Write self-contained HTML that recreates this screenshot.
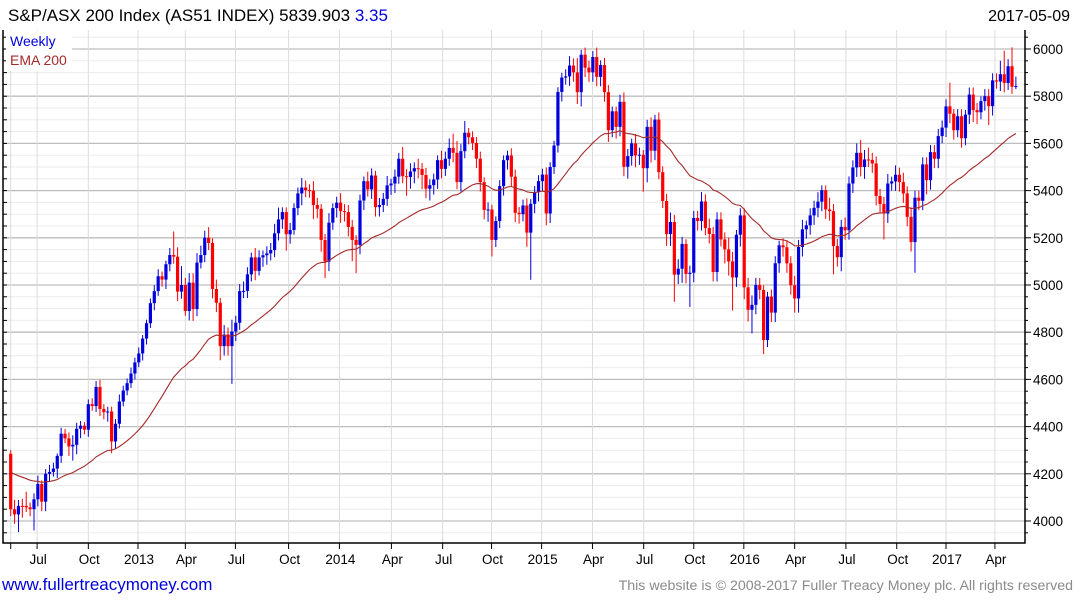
<!DOCTYPE html>
<html><head><meta charset="utf-8"><style>
html,body{margin:0;padding:0;background:#fff;}
svg{display:block;font-family:"Liberation Sans","DejaVu Sans",sans-serif;}
</style></head><body>
<svg id="chart" width="1075" height="600" viewBox="0 0 1075 600" xmlns="http://www.w3.org/2000/svg">
<text x="8" y="21" font-size="17" fill="#000">S&amp;P/ASX 200 Index (AS51 INDEX) 5839.903 <tspan fill="#0000dd">3.35</tspan></text>
<text x="1070" y="21" font-size="16" fill="#000" text-anchor="end">2017-05-09</text>
<g id="grid"></g>
<g id="marks" clip-path="url(#clip)"></g>
<defs><clipPath id="clip"><rect x="3" y="30" width="1022" height="513"/></clipPath></defs>
<g id="axes"></g>
<rect x="6" y="31" width="66" height="40" fill="#fff"/>
<text x="10" y="46" font-size="14" fill="#0000dd">Weekly</text>
<text x="10" y="65" font-size="14" fill="#a52a2a">EMA 200</text>
<text x="2" y="590" font-size="17" fill="#0000dd">www.fullertreacymoney.com</text>
<text x="1073" y="590" font-size="14.2" fill="#8a8a8a" text-anchor="end">This website is © 2008-2017 Fuller Treacy Money plc. All rights reserved</text>
</svg>
<script>
const closes=[4050,4028,4064,4064,4058,4050,4092,4157,4082,4200,
4208,4222,4276,4370,4350,4316,4323,4391,4404,4387,
4495,4487,4568,4475,4461,4464,4337,4412,4506,4553,
4584,4625,4672,4710,4773,4838,4923,4974,5037,5023,
5088,5127,5120,4972,5000,4890,5010,4898,5095,5127,
5200,5178,4983,4925,4741,4790,4741,4803,4840,4974,
4975,5045,5117,5060,5117,5126,5134,5148,5219,5278,
5309,5215,5233,5326,5388,5413,5402,5400,5339,5323,
5191,5099,5264,5326,5349,5313,5309,5246,5191,5170,
5358,5440,5405,5464,5330,5339,5365,5422,5430,5459,
5535,5461,5458,5481,5495,5492,5466,5408,5423,5447,
5529,5492,5535,5581,5560,5436,5567,5645,5626,5602,
5535,5436,5318,5320,5191,5271,5419,5529,5549,5459,
5306,5300,5337,5222,5344,5394,5440,5468,5303,5500,
5591,5818,5879,5884,5930,5901,5817,5976,5921,5901,
5966,5882,5932,5817,5656,5736,5670,5776,5501,5546,
5600,5549,5552,5495,5670,5569,5701,5478,5356,5216,
5267,5044,5069,5174,5047,5052,5284,5271,5354,5241,
5216,5055,5278,5193,5151,5100,5032,5213,5295,4990,
4895,4916,5000,4979,4767,4951,4883,5092,5168,5160,
5092,4999,4943,5161,5236,5253,5295,5327,5353,5402,
5320,5313,5165,5118,5246,5232,5430,5498,5560,5500,
5532,5530,5515,5377,5343,5303,5430,5439,5467,5436,
5388,5289,5182,5370,5357,5511,5444,5563,5535,5631,
5667,5757,5726,5656,5715,5622,5722,5807,5741,5732,
5779,5800,5758,5867,5862,5893,5856,5927,5840,5843];
const firstOpen=4285;
const upperWick=[15,40,25,30,60,20,25,35,15,20,30,25,10,25,20,25,40,25,20,15,
20,25,25,30,20,20,20,20,30,20,20,25,20,25,15,15,20,25,30,20,
15,30,100,40,80,30,40,40,40,40,30,45,20,40,20,40,30,50,30,30,
40,30,20,40,30,20,30,30,40,50,20,20,30,20,25,40,30,25,40,30,
20,25,40,20,25,40,30,30,30,20,25,20,40,30,20,30,25,40,20,30,
25,50,30,35,25,40,25,30,25,25,20,40,30,40,60,50,30,50,20,25,
25,30,20,30,20,20,25,20,20,30,30,25,25,30,20,25,25,25,30,20,
20,20,20,30,40,30,60,20,30,30,25,40,20,30,30,20,20,30,40,30,
20,40,30,20,30,40,20,30,25,30,40,30,40,30,20,30,30,30,40,30,
40,30,30,30,30,50,40,20,30,30,40,40,30,30,20,20,30,30,20,30,
30,30,40,30,40,20,30,30,40,20,20,50,30,30,30,40,30,30,40,54,
40,50,30,30,30,30,40,20,40,30,40,30,40,30,30,30,30,30,30,30,
30,30,100,20,30,30,20,30,30,30,20,30,30,30,30,57,100,30,80,40];
const lowerWick=[30,40,75,50,20,30,90,30,40,40,30,20,40,30,20,40,60,40,40,20,
30,20,25,30,30,40,50,30,20,20,20,20,25,20,30,25,20,30,20,30,
40,30,30,40,30,20,40,50,30,25,30,30,40,40,60,40,40,160,40,30,
30,30,30,40,20,40,40,30,30,30,40,70,40,20,30,50,30,30,60,40,
50,70,40,30,40,50,40,40,90,120,40,40,30,40,40,40,30,30,40,40,
30,30,80,50,50,40,60,40,50,40,40,40,30,30,40,30,40,30,30,30,
40,40,40,50,70,30,30,40,40,40,40,40,30,60,200,40,40,40,50,40,
30,30,40,30,40,40,50,60,40,40,40,40,40,40,50,30,50,40,40,50,
40,50,40,100,60,50,40,30,30,50,50,115,40,60,40,140,40,40,40,30,
40,40,40,30,60,60,140,40,50,50,50,100,40,40,60,30,40,40,40,40,
40,40,60,60,40,40,40,40,40,40,40,40,120,40,60,40,40,40,40,40,
50,30,40,40,40,110,40,30,40,40,40,40,40,130,40,40,60,40,40,40,
30,40,40,40,30,40,30,40,50,50,30,40,80,40,30,40,40,30,30,10];
const yTicks=[4000,4200,4400,4600,4800,5000,5200,5400,5600,5800,6000];
const xLabels=["Jul","Oct","2013","Apr","Jul","Oct","2014","Apr","Jul","Oct","2015","Apr","Jul","Oct","2016","Apr","Jul","Oct","2017","Apr"];
const xLabelWeek=[6.8,20,32.8,45,57.9,71.6,84.7,98.1,111.3,123.9,136.8,149.9,163.1,176,188.9,202,215.2,228.3,241,253.6];
const emaSeed=4215, emaPeriod=40;

const NS="http://www.w3.org/2000/svg";
const yOf=v=>49+(6000-v)*0.236;
const xOf=i=>10.7+i*3.881;
function mk(tag,attrs,parent){const e=document.createElementNS(NS,tag);for(const k in attrs)e.setAttribute(k,attrs[k]);parent.appendChild(e);return e;}
const grid=document.getElementById('grid'),marks=document.getElementById('marks'),axes=document.getElementById('axes');
for(let v=3900;v<=6050;v+=50){const y=yOf(v);if(y<30||y>543)continue;
 const l=mk('line',{x1:3,x2:1025,y1:y,y2:y,stroke:(v%200===0)?'#bdbdbd':'#ebebeb','stroke-width':(v%200===0)?1.3:1},grid);
 
 
 const t=mk('line',{x1:1025,x2:(v%200===0)?1031:1028,y1:y,y2:y,stroke:'#000'},axes);
 
 
 const t2=mk('line',{x1:3,x2:7,y1:y,y2:y,stroke:'#000'},axes);
 
 
}
const vx=[xOf(0)].concat(xLabelWeek.map(xOf));
vx.forEach(x=>{const l=mk('line',{x1:x,x2:x,y1:30,y2:543,stroke:'#dcdcdc'},grid);
 
 
 const t=mk('line',{x1:x,x2:x,y1:543,y2:549,stroke:'#000'},axes);
 
 });
yTicks.forEach(v=>{const t=mk('text',{x:1033,y:yOf(v)+5,'font-size':13.5,fill:'#000'},axes);t.textContent=v;
 
 });
xLabels.forEach((s,k)=>{const t=mk('text',{x:xOf(xLabelWeek[k])+1,y:564,'font-size':13.5,fill:'#000','text-anchor':'middle'},axes);t.textContent=s;
 
 });
const ax=mk('path',{d:'M3 30 V543 H1025 V30',fill:'none',stroke:'#000','stroke-width':1.5},axes);


closes.forEach((c,i)=>{
 const o=i===0?firstOpen:closes[i-1];
 const up=c>o, col=up?'#0000dd':'#ff0000';
 const hi=Math.max(o,c)+upperWick[i], lo=Math.min(o,c)-lowerWick[i];
 const x=xOf(i);
 const g=mk('g',{},marks);
 
 
 mk('line',{x1:x,x2:x,y1:yOf(hi),y2:yOf(lo),stroke:col,'stroke-width':1},g);
 const yt=yOf(Math.max(o,c)),yb=yOf(Math.min(o,c));
 mk('rect',{x:x-1.6,y:yt,width:3.2,height:Math.max(1,yb-yt),fill:col},g);
});
let e=emaSeed;const a=2/(emaPeriod+1);let d='';
closes.forEach((c,i)=>{e=e+a*(c-e);d+=(i?'L':'M')+xOf(i).toFixed(1)+' '+yOf(e).toFixed(1);});
const ema=mk('path',{d:d,fill:'none',stroke:'#a52a2a','stroke-width':1.1},marks);


</script>
</body></html>
